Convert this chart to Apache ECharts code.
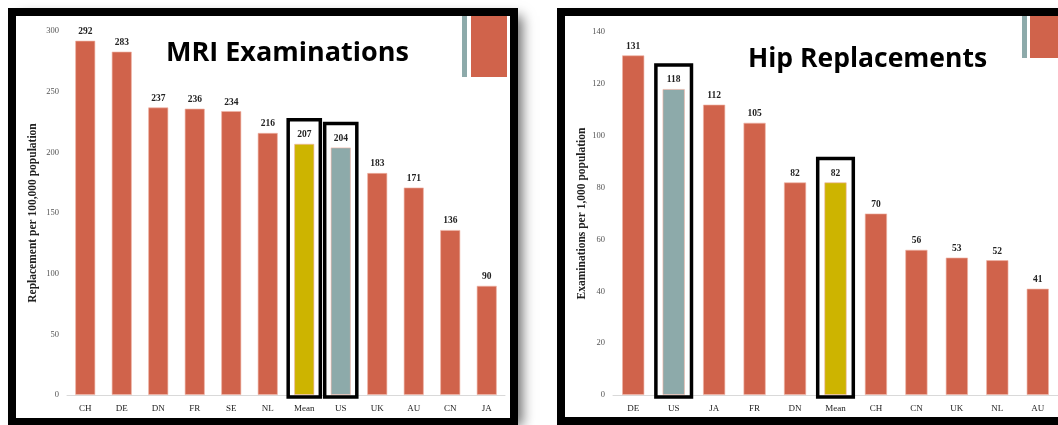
<!DOCTYPE html>
<html>
<head>
<meta charset="utf-8">
<title>MRI Examinations and Hip Replacements</title>
<script src="https://cdn.jsdelivr.net/npm/echarts@6/dist/echarts.min.js"></script>
<style>
  html, body { margin: 0; padding: 0; background: #ffffff; }
  #chart { width: 1058px; height: 425px; }
</style>
</head>
<body>
<div id="chart"></div>
<script>
// MRI examinations per country
const mriCategories = ['CH', 'DE', 'DN', 'FR', 'SE', 'NL', 'Mean', 'US', 'UK', 'AU', 'CN', 'JA'];
const mriValues = [292, 283, 237, 236, 234, 216, 207, 204, 183, 171, 136, 90];
const mriTicks = { min: 0, max: 300, interval: 50 };

// Hip replacements per country
const hipCategories = ['DE', 'US', 'JA', 'FR', 'DN', 'Mean', 'CH', 'CN', 'UK', 'NL', 'AU'];
const hipValues = [131, 118, 112, 105, 82, 82, 70, 56, 53, 52, 41];
const hipTicks = { min: 0, max: 140, interval: 20 };

// Categories drawn with their own colour and an outline box
const highlighted = ['Mean', 'US'];

const ORANGE = '#D0634B';
const TEAL = '#8DAAAA';
const GOLD = '#CDB400';
const SERIF = '"Liberation Serif", "DejaVu Serif", serif';
const SANS = '"Open Sans", "Noto Sans", sans-serif';

function barColor(cat) {
  if (cat === 'Mean') return GOLD;
  if (cat === 'US') return TEAL;
  return ORANGE;
}

function barData(cats, vals) {
  return vals.map((v, i) => ({ value: v, itemStyle: { color: barColor(cats[i]) } }));
}

function boxData(cats, vals) {
  const out = [];
  cats.forEach((c, i) => { if (highlighted.includes(c)) out.push([i, vals[i]]); });
  return out;
}

// Outline box around a highlighted bar and its value label
function renderBox(params, api) {
  const top = api.coord([api.value(0), api.value(1)]);
  const base = api.coord([api.value(0), 0]);
  const w = api.size([1, 0])[0] * 0.88;
  const pad = 24;
  return {
    type: 'rect',
    shape: { x: top[0] - w / 2, y: top[1] - pad, width: w, height: base[1] - top[1] + pad + 2 },
    style: { fill: 'none', stroke: '#000', lineWidth: 3.5 }
  };
}

function categoryAxis(gridIndex, cats) {
  return {
    type: 'category', gridIndex, data: cats,
    axisLine: { lineStyle: { color: '#D9D9D9', width: 1 } },
    axisTick: { show: false },
    axisLabel: { fontFamily: SERIF, fontSize: 9, color: '#222', margin: 9, interval: 0 }
  };
}

function valueAxis(gridIndex, ticks, name, nameGap) {
  return {
    type: 'value', gridIndex,
    min: ticks.min, max: ticks.max, interval: ticks.interval,
    name, nameLocation: 'middle', nameGap, nameRotate: 90,
    nameTextStyle: { fontFamily: SERIF, fontSize: 11.5, fontWeight: 'bold', color: '#222' },
    axisLine: { show: false }, axisTick: { show: false },
    splitLine: { show: false },
    axisLabel: { fontFamily: SERIF, fontSize: 8.5, color: '#555', margin: 8 }
  };
}

function barSeries(idx, cats, vals) {
  return {
    type: 'bar', xAxisIndex: idx, yAxisIndex: idx,
    data: barData(cats, vals), barWidth: '55%', z: 2,
    itemStyle: { borderColor: 'rgba(240,180,165,0.8)', borderWidth: 0.8 },
    label: {
      show: true, position: 'top', distance: 4,
      fontFamily: SERIF, fontSize: 9.5, fontWeight: 'bold', color: '#222'
    }
  };
}

function boxSeries(idx, cats, vals) {
  return {
    type: 'custom', xAxisIndex: idx, yAxisIndex: idx,
    data: boxData(cats, vals), renderItem: renderBox, z: 5, silent: true, clip: false
  };
}

// Frames, shadows and corner marks around each panel
function panelGraphics() {
  return [
    { type: 'rect', z: -10, shape: { x: 12, y: 12, width: 502, height: 410 },
      style: { fill: '#fff', shadowBlur: 12, shadowOffsetX: 8, shadowOffsetY: 4, shadowColor: 'rgba(0,0,0,0.6)' } },
    { type: 'rect', z: -10, shape: { x: 561, y: 12, width: 520, height: 409 },
      style: { fill: '#fff', shadowBlur: 10, shadowOffsetX: 6, shadowOffsetY: 4, shadowColor: 'rgba(0,0,0,0.4)' } },
    { type: 'rect', z: 50, shape: { x: 12, y: 12, width: 502, height: 410 },
      style: { fill: 'none', stroke: '#000', lineWidth: 8 } },
    { type: 'rect', z: 50, shape: { x: 561, y: 12, width: 520, height: 409 },
      style: { fill: 'none', stroke: '#000', lineWidth: 8 } },
    { type: 'rect', z: 10, shape: { x: 462, y: 16, width: 5, height: 61 }, style: { fill: TEAL } },
    { type: 'rect', z: 10, shape: { x: 471, y: 16, width: 36, height: 61 }, style: { fill: ORANGE } },
    { type: 'rect', z: 10, shape: { x: 1022, y: 16, width: 5, height: 42 }, style: { fill: TEAL } },
    { type: 'rect', z: 10, shape: { x: 1030, y: 16, width: 30, height: 42 }, style: { fill: ORANGE } }
  ];
}

const chart = echarts.init(document.getElementById('chart'), null, { renderer: 'canvas' });
chart.setOption({
  backgroundColor: '#ffffff',
  animation: false,
  title: [
    { text: 'MRI Examinations', left: 161, top: 35,
      textStyle: { fontFamily: SANS, fontSize: 27, fontWeight: 'bold', color: '#000' } },
    { text: 'Hip Replacements', left: 743, top: 41,
      textStyle: { fontFamily: SANS, fontSize: 26.5, fontWeight: 'bold', color: '#000' } }
  ],
  grid: [
    { left: 67, right: 553, top: 31, bottom: 30 },
    { left: 613, right: 0, top: 32, bottom: 30 }
  ],
  xAxis: [categoryAxis(0, mriCategories), categoryAxis(1, hipCategories)],
  yAxis: [
    valueAxis(0, mriTicks, 'Replacement per 100,000 population', 28),
    valueAxis(1, hipTicks, 'Examinations per 1,000 population', 25)
  ],
  series: [
    barSeries(0, mriCategories, mriValues),
    boxSeries(0, mriCategories, mriValues),
    barSeries(1, hipCategories, hipValues),
    boxSeries(1, hipCategories, hipValues)
  ],
  graphic: panelGraphics()
});
</script>
</body>
</html>
